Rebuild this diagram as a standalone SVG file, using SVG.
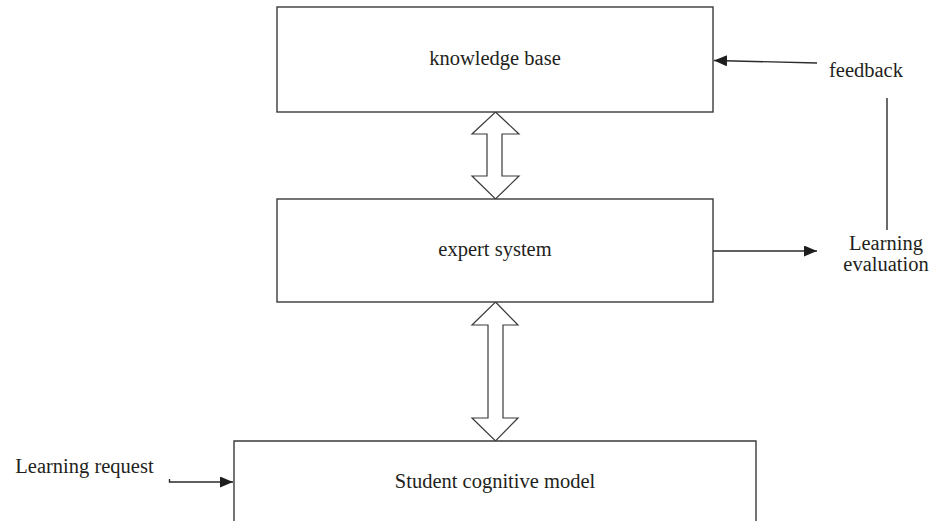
<svg xmlns="http://www.w3.org/2000/svg" width="931" height="521" viewBox="0 0 931 521">
<defs>
<style>
.box{fill:#fff;stroke:#3a3a3a;stroke-width:1.4}
.dbl{fill:#fff;stroke:#3a3a3a;stroke-width:1.2;stroke-linejoin:miter}
.ln{fill:none;stroke:#2b2b2b;stroke-width:1.4}
.lbl{font-family:"Liberation Serif","Times New Roman",serif;font-size:20.5px;fill:#231f20;text-anchor:middle}
</style>
<marker id="ah" markerWidth="13" markerHeight="11" refX="13" refY="5.5" orient="auto" markerUnits="userSpaceOnUse">
<path d="M0,0 L13,5.5 L0,11 Z" fill="#1e1e1e"/>
</marker>
</defs>
<rect width="931" height="521" fill="#fff"/>
<g id="connectors">
<path class="dbl" d="M495.5,112 L519,134 L502,134 L502,176 L519,176 L495.5,199 L472,176 L487,176 L487,134 L472,134 Z"/>
<path class="dbl" d="M495.5,302 L518,325 L503,325 L503,418 L518,418 L495.5,441 L472,418 L488,418 L488,325 L472,325 Z"/>
<line class="ln" x1="817" y1="63" x2="714" y2="60.5" marker-end="url(#ah)"/>
<line class="ln" x1="713" y1="251" x2="817" y2="251" marker-end="url(#ah)"/>
<line class="ln" x1="887" y1="98" x2="887" y2="230"/>
<path class="ln" d="M169.5,479 L169.5,482 L233,482" marker-end="url(#ah)"/>
</g>
<g id="knowledge-base">
<rect class="box" x="277" y="7" width="436" height="105"/>
<text class="lbl" x="495" y="65">knowledge base</text>
</g>
<g id="expert-system">
<rect class="box" x="277" y="199" width="436" height="103"/>
<text class="lbl" x="495" y="256">expert system</text>
</g>
<g id="student-model">
<path class="box" d="M234,525 L234,441 L756,441 L756,525"/>
<text class="lbl" x="495" y="488">Student cognitive model</text>
</g>
<g id="feedback">
<text class="lbl" x="866" y="77">feedback</text>
</g>
<g id="learning-evaluation">
<text class="lbl" x="886" y="250">Learning</text>
<text class="lbl" x="886" y="271">evaluation</text>
</g>
<g id="learning-request">
<text class="lbl" x="84.5" y="473">Learning request</text>
</g>
</svg>
